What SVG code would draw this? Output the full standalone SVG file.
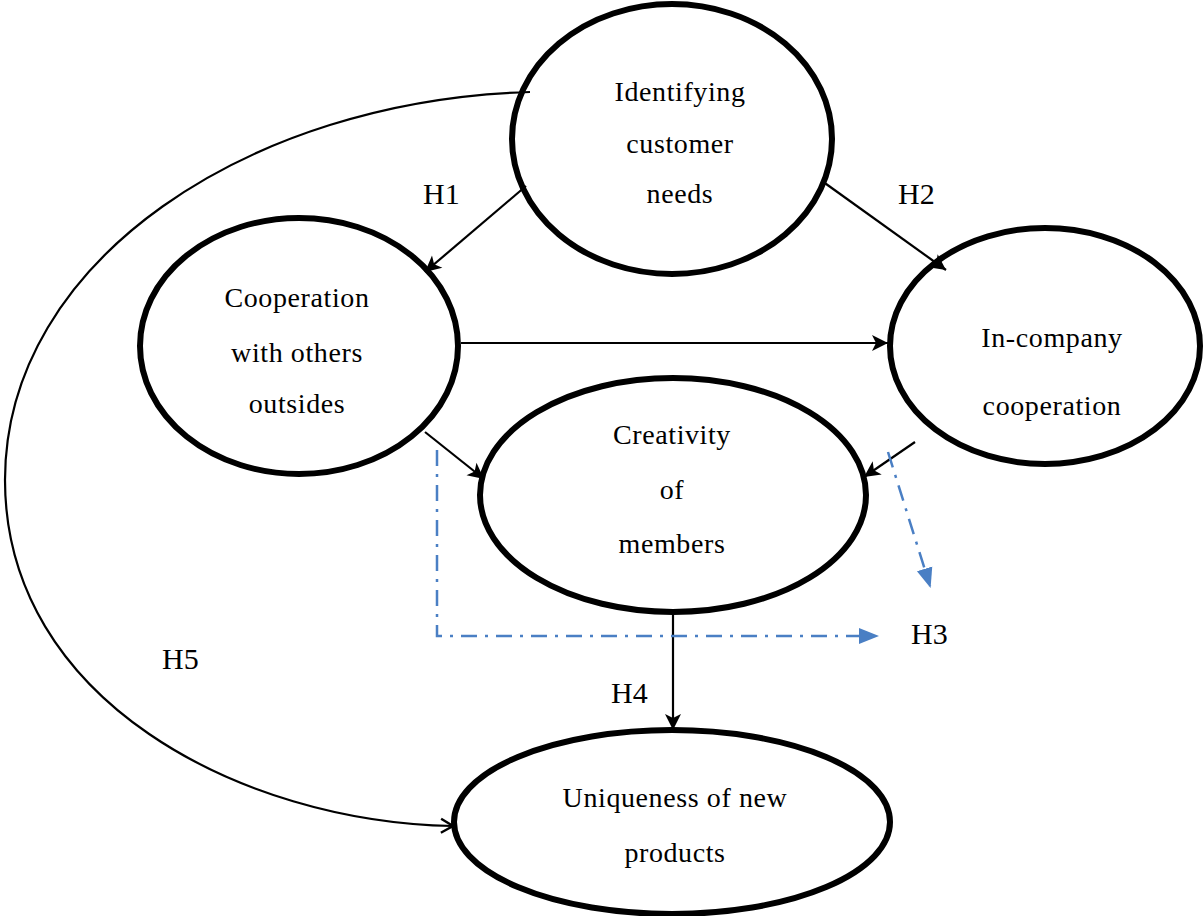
<svg xmlns="http://www.w3.org/2000/svg" width="1203" height="916" viewBox="0 0 1203 916">
<style>
.node ellipse{fill:#fff;stroke:#000;stroke-width:6}
.node text{font-family:"Liberation Serif",serif;font-size:28px;letter-spacing:0.6px;fill:#000;text-anchor:middle}
.lbl{font-family:"Liberation Serif",serif;font-size:30px;fill:#000}
.c{stroke:#000;stroke-width:2.2;fill:none}
.a{marker-end:url(#ah)}
.b{stroke:#4a7fc4;stroke-width:2.5;fill:none;stroke-dasharray:16 8 3 8;marker-end:url(#ab)}
</style>
<defs>
<marker id="ah" markerWidth="20" markerHeight="20" refX="18" refY="10" orient="auto" markerUnits="userSpaceOnUse" viewBox="0 0 20 20">
<path d="M2,2 L18,10 L2,18 L6,10 Z" fill="#000"/>
</marker>
<marker id="ao" markerWidth="20" markerHeight="20" refX="18" refY="10" orient="auto" markerUnits="userSpaceOnUse" viewBox="0 0 20 20">
<path d="M6,3 L18,10 L6,17" fill="none" stroke="#000" stroke-width="2.4"/>
</marker>
<marker id="ab" markerWidth="20" markerHeight="20" refX="18" refY="10" orient="auto" markerUnits="userSpaceOnUse" viewBox="0 0 20 20">
<path d="M0,2 L20,10 L0,18 Z" fill="#4a7fc4"/>
</marker>
</defs>
<rect width="1203" height="916" fill="#fff"/>
<g id="n1" class="node"><ellipse cx="672" cy="139" rx="160" ry="135"/>
<text x="680" y="101">Identifying</text><text x="680" y="153">customer</text><text x="680" y="203">needs</text></g>
<g id="n2" class="node"><ellipse cx="299" cy="346" rx="159" ry="128"/>
<text x="297" y="307">Cooperation</text><text x="297" y="362">with others</text><text x="297" y="413">outsides</text></g>
<g id="n3" class="node"><ellipse cx="1045" cy="346" rx="155" ry="118"/>
<text x="1052" y="347">In-company</text><text x="1052" y="415">cooperation</text></g>
<g id="n4" class="node"><ellipse cx="673" cy="495" rx="193" ry="117"/>
<text x="672" y="444">Creativity</text><text x="672" y="499">of</text><text x="672" y="553">members</text></g>
<g id="n5" class="node"><ellipse cx="672" cy="822" rx="218" ry="92"/>
<text x="675" y="807">Uniqueness of new</text><text x="675" y="862">products</text></g>
<g id="connectors">
<path class="c" d="M530,92 C250,100 5,260 5,480 C5,700 240,822 453,826" marker-end="url(#ao)"/>
<line class="c a" x1="526" y1="186" x2="425" y2="272"/>
<line class="c a" x1="822" y1="181" x2="946" y2="270"/>
<line class="c a" x1="461" y1="343" x2="888" y2="343"/>
<line class="c a" x1="425" y1="432" x2="484" y2="479"/>
<line class="c a" x1="915" y1="442" x2="864" y2="477"/>
<line class="c a" x1="673" y1="615" x2="673" y2="730"/>
<path class="b" d="M437,450 L437,636 L877,636"/>
<line class="b" x1="888" y1="452" x2="930" y2="586"/>
</g>
<g id="labels">
<text class="lbl" x="423" y="204">H1</text>
<text class="lbl" x="898" y="204">H2</text>
<text class="lbl" x="911" y="644">H3</text>
<text class="lbl" x="611" y="703">H4</text>
<text class="lbl" x="162" y="669">H5</text>
</g>
</svg>
